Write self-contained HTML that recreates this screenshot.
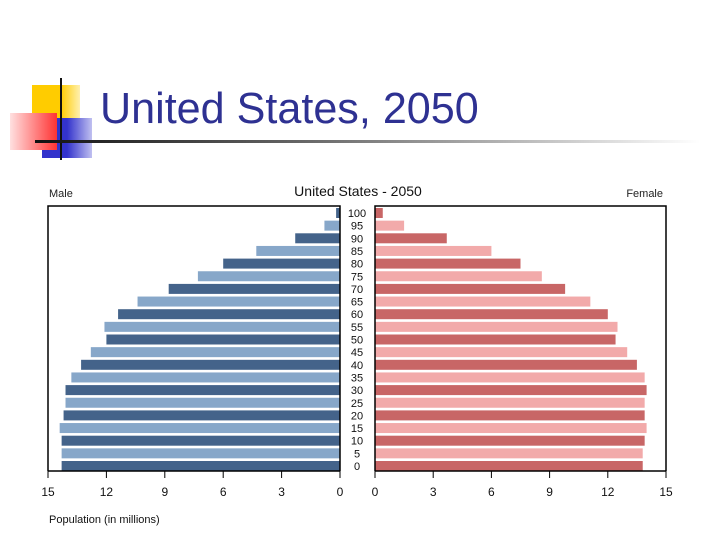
<!DOCTYPE html>
<html><head><meta charset="utf-8"><style>
body{margin:0;width:720px;height:540px;background:#fff;overflow:hidden;position:relative;font-family:"Liberation Sans",sans-serif}
.abs{position:absolute}
</style></head><body>
<div class="abs" style="left:32px;top:85px;width:48px;height:46px;background:linear-gradient(90deg,#ffcc00 60%,#fff0b0)"></div>
<div class="abs" style="left:42px;top:118px;width:50px;height:40px;background:linear-gradient(90deg,#3333cc 50%,#c0c0f0)"></div>
<div class="abs" style="left:10px;top:113px;width:47px;height:37px;background:linear-gradient(90deg,#ffe0e0,#ff3333)"></div>
<div class="abs" style="left:60px;top:78px;width:2px;height:82px;background:#111"></div>
<div class="abs" style="left:35px;top:140px;width:665px;height:3px;background:linear-gradient(90deg,#111,#666 40%,#fff)"></div>
<div class="abs" style="left:100px;top:84px;font-size:44px;color:#2e3192;transform:scaleX(0.98);transform-origin:left top;white-space:nowrap">United States, 2050</div>
<svg class="abs" style="left:0;top:0" width="720" height="540">
<g font-family="Liberation Sans, sans-serif">
<text x="49" y="197" font-size="11" fill="#222">Male</text>
<text x="663" y="197" font-size="11" fill="#222" text-anchor="end">Female</text>
<text x="358" y="196" font-size="14" fill="#111" text-anchor="middle">United States - 2050</text>
<text x="49" y="523" font-size="11" fill="#111">Population (in millions)</text>
<g id="plot"></g>
</g>
</svg>
<script>
const ages=[0,5,10,15,20,25,30,35,40,45,50,55,60,65,70,75,80,85,90,95,100];
const male=[14.3,14.3,14.3,14.4,14.2,14.1,14.1,13.8,13.3,12.8,12.0,12.1,11.4,10.4,8.8,7.3,6.0,4.3,2.3,0.8,0.2];
const female=[13.8,13.8,13.9,14.0,13.9,13.9,14.0,13.9,13.5,13.0,12.4,12.5,12.0,11.1,9.8,8.6,7.5,6.0,3.7,1.5,0.4];
const ticks=[0,3,6,9,12,15];
const NS='http://www.w3.org/2000/svg';
const g=document.getElementById('plot');
const L0=340,LS=(340-48)/15,R0=375,RS=(666-375)/15,plotTop=206,plotBot=471;
const mx=v=>L0-v*LS, fx=v=>R0+v*RS;
const yc=i=>466-i*(466-213)/(ages.length-1);
function el(t,a){const e=document.createElementNS(NS,t);for(const k in a)e.setAttribute(k,a[k]);g.appendChild(e);return e;}
ages.forEach((a,i)=>{
 const dark=i%2===0;
 const m=el('rect',{x:mx(male[i]),y:yc(i)-5,width:male[i]*LS,height:10,fill:dark?'#44638a':'#87a7c9'});
 
 
 const f=el('rect',{x:R0,y:yc(i)-5,width:female[i]*RS,height:10,fill:dark?'#c86666':'#f2aaaa'});
 
 
 const t=el('text',{x:357,y:yc(i)+4,'font-size':11,'text-anchor':'middle',fill:'#111'});
 t.textContent=a;
 
 
});
const fr1=el('path',{d:`M48 ${plotBot}V${plotTop}H340V${plotBot}`,fill:'none',stroke:'#000','stroke-width':1.5});


const fr2=el('path',{d:`M375 ${plotBot}V${plotTop}H666V${plotBot}`,fill:'none',stroke:'#000','stroke-width':1.5});


const ax1=el('line',{x1:48,x2:340,y1:plotBot,y2:plotBot,stroke:'#000','stroke-width':1.5});


const ax2=el('line',{x1:375,x2:666,y1:plotBot,y2:plotBot,stroke:'#000','stroke-width':1.5});


ticks.forEach(v=>{
 [[mx(v),'male'],[fx(v),'female']].forEach(([x,s])=>{
  el('line',{x1:x,x2:x,y1:plotBot,y2:plotBot+7,stroke:'#000'});
  const t=el('text',{x:x,y:496,'font-size':12,'text-anchor':'middle',fill:'#111'});
  t.textContent=v;
  
  
 });
});
</script>
</body></html>
